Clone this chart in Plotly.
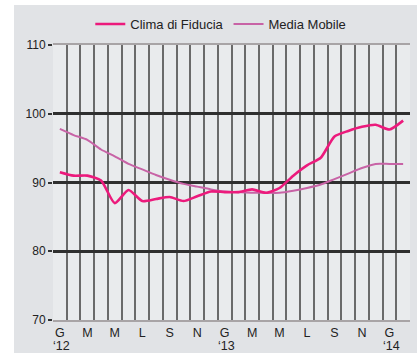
import plotly.graph_objects as go

# Monthly series, Jan 2012 – Feb 2014
months = ["G", "F", "M", "A", "M", "G", "L", "A", "S", "O", "N", "D",
          "G", "F", "M", "A", "M", "G", "L", "A", "S", "O", "N", "D",
          "G", "F"]
years = {0: "‘12", 12: "‘13", 24: "‘14"}

clima_fiducia = [91.5, 91.0, 91.0, 90.3, 87.0, 88.9, 87.3, 87.6, 87.9, 87.3,
                 88.0, 88.7, 88.6, 88.6, 89.0, 88.5, 89.2, 91.0, 92.5, 93.6,
                 96.7, 97.5, 98.1, 98.4, 97.7, 99.0]
media_mobile = [97.8, 96.9, 96.2, 94.8, 93.8, 92.7, 91.9, 91.1, 90.4, 89.8,
                89.4, 89.0, 88.7, 88.6, 88.5, 88.5, 88.5, 88.8, 89.2, 89.7,
                90.5, 91.3, 92.1, 92.7, 92.7, 92.7]

y_ticks = [70, 80, 90, 100, 110]
y_major = [80, 90, 100]

x = list(range(len(months)))
tick_idx = list(range(0, len(months), 2))
tick_text = [months[i] for i in tick_idx]

FONT = "Liberation Sans, Arial, sans-serif"

fig = go.Figure()
fig.add_trace(go.Scatter(
    x=x, y=media_mobile, name="Media Mobile", mode="lines",
    line=dict(color="#c863a6", width=2, shape="spline", smoothing=0.6),
))
fig.add_trace(go.Scatter(
    x=x, y=clima_fiducia, name="Clima di Fiducia", mode="lines",
    line=dict(color="#ec1a7c", width=2.6, shape="spline", smoothing=0.6),
))

W, H = 417, 353
L, R, T, B = 53, 7, 45, 33
pw = W - L - R
ph = H - T - B

# white strips along the left and top edges of the panel
fig.add_shape(type="rect", xref="paper", yref="paper", layer="below",
              x0=-L / pw, x1=-(L - 14) / pw, y0=-B / ph, y1=1 + T / ph,
              fillcolor="white", line_width=0)
fig.add_shape(type="rect", xref="paper", yref="paper", layer="below",
              x0=-L / pw, x1=1 + R / pw, y0=1 + (T - 5) / ph, y1=1 + T / ph,
              fillcolor="white", line_width=0)

# year markers under the January labels
for i, yr in years.items():
    fig.add_annotation(x=i, xref="x", y=0, yref="paper", text=yr,
                       showarrow=False, xanchor="center", yanchor="middle",
                       yshift=-26, xshift=2,
                       font=dict(family=FONT, size=12.5, color="#222222"))

fig.update_layout(
    width=W, height=H,
    margin=dict(l=L, r=R, t=T, b=B, autoexpand=False),
    paper_bgcolor="#e1e3e6",
    plot_bgcolor="#e9ebed",
    font=dict(family=FONT, size=12, color="#222222"),
    showlegend=True,
    legend=dict(orientation="h", x=0.47, xanchor="center", y=1 + 21 / ph,
                yanchor="middle", traceorder="reversed",
                font=dict(size=13, color="#222222"),
                bgcolor="rgba(0,0,0,0)", itemwidth=30),
    xaxis=dict(
        range=[-0.5, len(months) - 0.5],
        tickmode="array", tickvals=tick_idx, ticktext=tick_text,
        showgrid=False, zeroline=False, ticks="", automargin=False,
        showline=True, mirror=True, linecolor="#a8a4a6", linewidth=1.5,
        tickfont=dict(size=12.5, color="#222222"),
        minor=dict(tickmode="linear", tick0=-0.5, dtick=1, showgrid=True,
                   gridcolor="#6a6a6a", gridwidth=2, ticks=""),
        fixedrange=True,
    ),
    yaxis=dict(
        range=[70, 110],
        tickmode="array", tickvals=y_ticks,
        showgrid=False, zeroline=False, automargin=False,
        ticks="outside", ticklen=4, tickcolor="#333333", tickwidth=1.5,
        showline=False,
        tickfont=dict(size=12, color="#222222"),
        minor=dict(tickmode="array", tickvals=y_major, showgrid=True,
                   gridcolor="#2f2f2f", gridwidth=2.5, ticks=""),
        fixedrange=True,
    ),
)

fig.write_html("out.html")
